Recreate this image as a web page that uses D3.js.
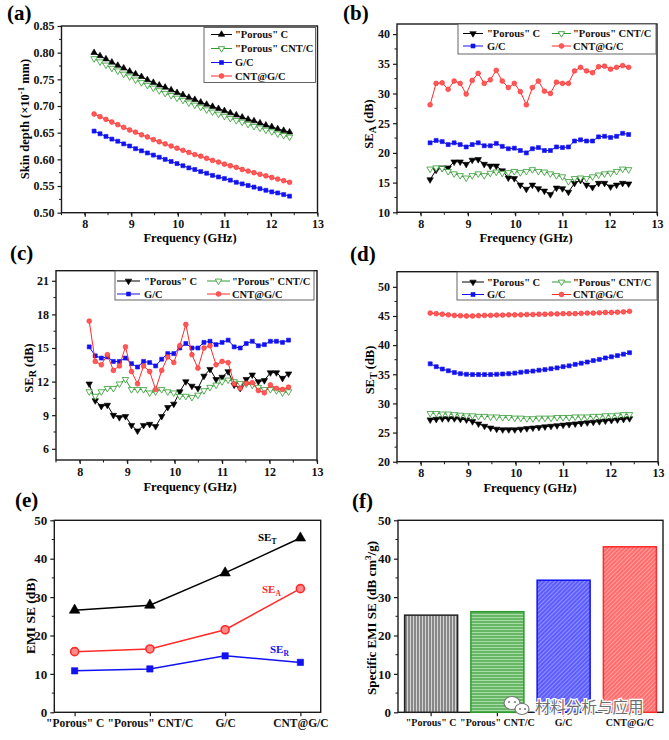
<!DOCTYPE html>
<html><head><meta charset="utf-8">
<script src="https://cdn.jsdelivr.net/npm/d3@7"></script>
<style>
body{margin:0;background:#fff}
svg text{font-family:"Liberation Serif","Times New Roman",serif;font-weight:bold}
.cjk{font-family:"Noto Sans CJK SC",sans-serif !important;font-weight:normal !important}
</style></head><body>
<script>
// ---------- DATA ----------
const freq = [8.2, 8.327, 8.455, 8.582, 8.709, 8.836, 8.964, 9.091, 9.218, 9.345, 9.473, 9.6, 9.727, 9.855, 9.982, 10.109, 10.236, 10.364, 10.491, 10.618, 10.745, 10.873, 11.0, 11.127, 11.255, 11.382, 11.509, 11.636, 11.764, 11.891, 12.018, 12.145, 12.273, 12.4];
const sampleNames = ['"Porous" C', '"Porous" CNT/C', 'G/C', 'CNT@G/C'];
const freqTicks = [8, 9, 10, 11, 12, 13];

// (a) skin depth (x10^-1 mm)
const skinPorousC    = [0.800,0.794,0.788,0.782,0.776,0.771,0.765,0.760,0.755,0.749,0.744,0.739,0.735,0.730,0.725,0.721,0.716,0.712,0.707,0.703,0.699,0.695,0.691,0.687,0.683,0.679,0.675,0.672,0.668,0.664,0.661,0.657,0.654,0.651];
const skinPorousCNTC = [0.789,0.783,0.777,0.771,0.766,0.760,0.755,0.749,0.744,0.739,0.734,0.729,0.724,0.720,0.715,0.711,0.706,0.702,0.698,0.693,0.689,0.685,0.681,0.677,0.673,0.670,0.666,0.662,0.659,0.655,0.652,0.648,0.645,0.642];
const skinGC         = [0.653,0.648,0.643,0.638,0.634,0.629,0.625,0.620,0.616,0.612,0.608,0.604,0.600,0.596,0.592,0.588,0.584,0.581,0.577,0.574,0.570,0.567,0.564,0.561,0.557,0.554,0.551,0.548,0.545,0.542,0.539,0.537,0.534,0.531];
const skinCNTGC      = [0.685,0.680,0.675,0.670,0.665,0.660,0.655,0.651,0.646,0.642,0.637,0.633,0.629,0.625,0.621,0.617,0.613,0.609,0.606,0.602,0.598,0.595,0.591,0.588,0.585,0.581,0.578,0.575,0.572,0.569,0.566,0.563,0.560,0.557];
const skinTicks = [0.50,0.55,0.60,0.65,0.70,0.75,0.80,0.85];

// (b) SE_A (dB)
const seaPorousC    = [15.5,17.1,17.5,17.5,18.5,18.5,18.1,18.8,18.9,18.1,17.8,17.8,17.0,15.8,15.7,14.6,13.9,14.6,14.0,13.6,13.0,14.1,14.0,13.4,14.9,15.4,14.6,14.2,14.9,14.9,14.3,14.6,14.9,14.8];
const seaPorousCNTC = [17.3,17.5,17.4,16.9,16.5,16.2,15.8,16.2,16.5,16.2,16.6,16.8,16.6,16.7,16.9,16.7,16.9,17.2,16.9,16.8,16.5,16.2,16.0,15.2,15.7,15.8,15.7,16.0,16.3,16.5,16.6,16.9,17.3,17.2];
const seaGC         = [21.7,22.1,21.9,21.4,21.7,21.4,21.0,21.4,21.7,21.2,21.2,21.6,21.1,20.7,20.8,20.4,20.0,20.7,20.9,20.4,20.4,21.0,20.9,21.0,22.0,22.2,22.0,22.0,22.7,22.8,22.6,22.8,23.3,23.1];
const seaCNTGC      = [28.1,31.7,31.8,30.7,32.1,31.7,29.9,32.2,33.4,31.7,32.3,33.9,32.1,31.0,31.7,30.3,28.1,31.0,32.1,30.4,30.0,31.9,31.7,31.7,33.8,34.4,33.8,33.5,34.5,34.6,34.1,34.4,34.7,34.4];
const seaTicks = [10,15,20,25,30,35,40];

// (c) SE_R (dB)
const serPorousC    = [11.8,10.3,9.8,9.9,9.0,8.8,8.9,8.1,7.6,8.1,8.2,8.0,8.9,9.7,10.0,11.1,12.0,11.6,11.4,12.5,13.1,12.2,12.4,12.9,11.7,11.4,12.2,12.6,12.0,12.1,12.8,12.8,12.3,12.7];
const serPorousCNTC = [11.1,10.7,11.1,11.4,11.4,11.8,12.2,11.3,11.3,11.3,11.0,11.1,11.3,11.1,11.0,10.7,10.7,10.6,10.8,11.2,11.5,11.7,12.0,12.15,12.0,11.85,11.8,11.7,11.5,11.3,11.3,11.2,11.0,11.1];
const serGC         = [15.1,14.3,14.1,14.2,13.8,13.8,14.1,13.6,13.3,13.8,13.7,13.4,14.0,14.5,14.5,15.0,15.4,15.0,15.0,15.5,15.6,15.3,15.5,15.7,15.1,15.0,15.4,15.6,15.2,15.3,15.6,15.6,15.5,15.7];
const serCNTGC      = [17.4,13.8,13.5,14.4,13.0,13.4,15.1,12.9,11.8,13.4,12.9,11.3,13.0,14.2,13.7,15.2,17.1,14.4,13.2,15.0,15.2,13.5,13.8,13.7,11.8,11.4,11.85,11.9,11.2,11.0,11.7,11.4,11.3,11.5];
const serTicks = [6,9,12,15,18,21];

// (d) SE_T (dB)
const setPorousC    = [27.2,27.3,27.4,27.4,27.4,27.3,27.2,26.9,26.5,26.1,25.8,25.6,25.5,25.5,25.5,25.6,25.7,25.8,25.9,26.0,26.1,26.2,26.3,26.4,26.5,26.6,26.7,26.8,26.9,27.0,27.1,27.2,27.3,27.4];
const setPorousCNTC = [28.3,28.3,28.2,28.2,28.1,28.0,27.9,27.9,27.8,27.8,27.7,27.7,27.6,27.6,27.5,27.5,27.4,27.4,27.5,27.5,27.5,27.6,27.6,27.6,27.7,27.7,27.7,27.8,27.8,27.9,27.9,28.0,28.1,28.1];
const setGC         = [36.8,36.3,35.9,35.6,35.3,35.1,35.0,34.95,34.95,34.95,34.95,35.0,35.05,35.1,35.2,35.35,35.45,35.55,35.7,35.8,35.95,36.1,36.3,36.45,36.7,36.9,37.1,37.35,37.55,37.8,38.0,38.2,38.45,38.7];
const setCNTGC      = [45.5,45.4,45.3,45.2,45.1,45.05,45.0,45.0,45.05,45.1,45.1,45.15,45.15,45.2,45.2,45.2,45.25,45.25,45.3,45.3,45.35,45.35,45.4,45.4,45.4,45.45,45.5,45.5,45.55,45.6,45.6,45.65,45.7,45.8];
const setTicks = [20,25,30,35,40,45,50];

// (e) average EMI SE (dB)
const emiSET = [26.6, 27.9, 36.3, 45.4];
const emiSEA = [15.8, 16.5, 21.5, 32.2];
const emiSER = [10.8, 11.3, 14.7, 13.0];
const emiTicks = [0,10,20,30,40,50];

// (f) specific EMI SE (dB cm3/g)
const specificSE = [25.3, 26.2, 34.4, 43.1];

// ---------- DRAWING ----------
const svg = d3.select('body').append('svg').attr('width',669).attr('height',740);
const COL = {black:'#000', green:'#2f9a2f', blue:'#1212f0', red:'#ff2a2a'};
const STY = {
  pcUp:   {color:COL.black, type:d3.symbolTriangle, fill:COL.black, rot:0,   size:18},
  pcDown: {color:COL.black, type:d3.symbolTriangle, fill:COL.black, rot:180, size:18},
  pcnt:   {color:COL.green, type:d3.symbolTriangle, fill:'#fff',    rot:180, size:18},
  gc:     {color:COL.blue,  type:d3.symbolSquare,   fill:COL.blue,  rot:0,   size:16},
  cnt:    {color:COL.red,   type:d3.symbolCircle,   fill:'#ff5a5a', rot:0,   size:18}
};

function marker(g, cx, cy, st, size){
  g.append('path').attr('d', d3.symbol().type(st.type).size(size||st.size)())
   .attr('transform', `translate(${cx},${cy}) rotate(${st.rot})`)
   .attr('fill', st.fill).attr('stroke', st.color).attr('stroke-width', st.fill==='#fff'?0.8:0.6);
}

function panel(o){
  const g = svg.append('g');
  const b = o.box, x = o.x, y = o.y;
  const xa = g.append('g').attr('class','xaxis').attr('transform',`translate(0,${b.y1})`)
    .call(d3.axisBottom(x).tickValues(o.xTicks).tickSize(4).tickSizeOuter(0).tickPadding(3).tickFormat(o.xFmt||(d=>d)));
  const ya = g.append('g').attr('transform',`translate(${b.x0},0)`)
    .call(d3.axisLeft(y).tickValues(o.yTicks).tickSize(4).tickSizeOuter(0).tickPadding(3).tickFormat(o.yFmt||(d=>d)));
  [xa,ya].forEach(a=>{
    a.select('.domain').remove();
    a.selectAll('line').attr('stroke','#1a1a1a').attr('stroke-width',1.2);
    a.selectAll('text').attr('fill','#111').attr('font-size',o.tickFont||12);
  });
  if(o.xTickFont) xa.selectAll('text').attr('font-size',o.xTickFont);
  (o.xMinor||[]).forEach(v=>g.append('line').attr('x1',x(v)).attr('x2',x(v)).attr('y1',b.y1).attr('y2',b.y1+2.5).attr('stroke','#1a1a1a'));
  (o.yMinor||[]).forEach(v=>g.append('line').attr('y1',y(v)).attr('y2',y(v)).attr('x1',b.x0).attr('x2',b.x0-2.5).attr('stroke','#1a1a1a'));
  g.append('rect').attr('x',b.x0).attr('y',b.y0).attr('width',b.x1-b.x0).attr('height',b.y1-b.y0)
    .attr('fill','none').attr('stroke','#1a1a1a').attr('stroke-width',1.4);
  return g;
}

function series(g, x, y, xs, ys, st){
  const pts = xs.map((f,i)=>[x(f), y(ys[i])]);
  g.append('path').attr('d', d3.line()(pts)).attr('fill','none').attr('stroke',st.color).attr('stroke-width',1);
  pts.forEach(p=>marker(g,p[0],p[1],st));
}

function title(txt, tx, ty){
  svg.append('text').attr('x',tx).attr('y',ty).attr('font-size',21).text(txt);
}
function xTitle(txt, cx, by){
  svg.append('text').attr('x',cx).attr('y',by).attr('text-anchor','middle').attr('font-size',12.5).text(txt);
}
function yTitle(parts, bx, cy, fs){
  const t = svg.append('text').attr('transform',`translate(${bx},${cy}) rotate(-90)`)
    .attr('text-anchor','middle').attr('font-size',fs||12.5);
  parts.forEach(p=>{
    const s = t.append('tspan').text(p.t);
    if(p.sub){ s.attr('font-size',(fs||12.5)*0.8).attr('dy',3); }
    if(p.sup){ s.attr('font-size',(fs||12.5)*0.7).attr('dy',-5); }
    if(p.reset){ s.attr('dy',p.reset); }
  });
}
function legend(box, items){
  svg.append('rect').attr('x',box[0]).attr('y',box[1]).attr('width',box[2]-box[0]).attr('height',box[3]-box[1])
    .attr('fill','#fff').attr('stroke','#555').attr('stroke-width',0.9);
  const g = svg.append('g');
  items.forEach(it=>{
    g.append('line').attr('x1',it.l1).attr('x2',it.l2).attr('y1',it.y).attr('y2',it.y).attr('stroke',it.st.color).attr('stroke-width',1);
    marker(g,(it.l1+it.l2)/2,it.y,it.st);
    g.append('text').attr('x',it.tx).attr('y',it.y+3.6).attr('font-size',10.5).attr('fill','#111').text(it.label);
  });
}

const xMinorF = d3.range(7.5, 13.01, 0.5);

// ---- (a)
{
  const box={x0:61.5,x1:317.5,y0:26,y1:212.7};
  const x=d3.scaleLinear().domain([7.5,13]).range([box.x0,box.x1]);
  const y=d3.scaleLinear().domain([0.5,0.85]).range([box.y1,box.y0]);
  const g=panel({box,x,y,xTicks:freqTicks,yTicks:skinTicks,yFmt:d3.format('.2f'),xMinor:xMinorF,yMinor:d3.range(0.525,0.85,0.05)});
  series(g,x,y,freq,skinPorousC,STY.pcUp);
  series(g,x,y,freq,skinPorousCNTC,STY.pcnt);
  series(g,x,y,freq,skinGC,STY.gc);
  series(g,x,y,freq,skinCNTGC,STY.cnt);
  legend([204,27.5,315.5,82.5],[
    {st:STY.pcUp,l1:211,l2:232,y:34.5,tx:235,label:sampleNames[0]},
    {st:STY.pcnt,l1:211,l2:232,y:48.5,tx:235,label:sampleNames[1]},
    {st:STY.gc,l1:211,l2:232,y:62.5,tx:235,label:sampleNames[2]},
    {st:STY.cnt,l1:211,l2:232,y:76,tx:235,label:sampleNames[3]}]);
  title('(a)',7,20);
  xTitle('Frequency (GHz)',190,242);
  yTitle([{t:'Skin depth (×10'},{t:'-1',sup:true},{t:' mm)',reset:5}],29,119);
}
// ---- (b)
{
  const box={x0:397,x1:657,y0:24,y1:212.3};
  const x=d3.scaleLinear().domain([7.5,13]).range([box.x0,box.x1]);
  const y=d3.scaleLinear().domain([10,41.7]).range([box.y1,box.y0]);
  const g=panel({box,x,y,xTicks:freqTicks,yTicks:seaTicks,xMinor:xMinorF,yMinor:d3.range(12.5,41,5)});
  series(g,x,y,freq,seaPorousC,STY.pcDown);
  series(g,x,y,freq,seaPorousCNTC,STY.pcnt);
  series(g,x,y,freq,seaGC,STY.gc);
  series(g,x,y,freq,seaCNTGC,STY.cnt);
  legend([458,24,656,54],[
    {st:STY.pcDown,l1:463,l2:483,y:33.5,tx:487,label:sampleNames[0]},
    {st:STY.pcnt,l1:552,l2:571,y:33.5,tx:573,label:sampleNames[1]},
    {st:STY.gc,l1:463,l2:483,y:46,tx:487,label:sampleNames[2]},
    {st:STY.cnt,l1:552,l2:571,y:46,tx:573,label:sampleNames[3]}]);
  title('(b)',343,20);
  xTitle('Frequency (GHz)',526,242);
  yTitle([{t:'SE'},{t:'A',sub:true},{t:' (dB)',reset:-3}],373,124);
}
// ---- (c)
{
  const box={x0:56,x1:317,y0:270.7,y1:460};
  const x=d3.scaleLinear().domain([7.5,13]).range([box.x0,box.x1]);
  const y=d3.scaleLinear().domain([5,21.9]).range([box.y1,box.y0]);
  const g=panel({box,x,y,xTicks:freqTicks,yTicks:serTicks,xMinor:xMinorF,yMinor:d3.range(7.5,21.5,3)});
  series(g,x,y,freq,serPorousC,STY.pcDown);
  series(g,x,y,freq,serPorousCNTC,STY.pcnt);
  series(g,x,y,freq,serGC,STY.gc);
  series(g,x,y,freq,serCNTGC,STY.cnt);
  legend([115,271,314,300],[
    {st:STY.pcDown,l1:117,l2:140,y:281,tx:144,label:sampleNames[0]},
    {st:STY.pcnt,l1:207,l2:230,y:281,tx:232,label:sampleNames[1]},
    {st:STY.gc,l1:117,l2:140,y:294,tx:144,label:sampleNames[2]},
    {st:STY.cnt,l1:207,l2:230,y:294,tx:232,label:sampleNames[3]}]);
  title('(c)',10,260);
  xTitle('Frequency (GHz)',190,491);
  yTitle([{t:'SE'},{t:'R',sub:true},{t:' (dB)',reset:-3}],33,368);
}
// ---- (d)
{
  const box={x0:397,x1:658,y0:271.7,y1:461.7};
  const x=d3.scaleLinear().domain([7.5,13]).range([box.x0,box.x1]);
  const y=d3.scaleLinear().domain([20,52.6]).range([box.y1,box.y0]);
  const g=panel({box,x,y,xTicks:freqTicks,yTicks:setTicks,xMinor:xMinorF,yMinor:d3.range(22.5,52,5)});
  series(g,x,y,freq,setPorousC,STY.pcDown);
  series(g,x,y,freq,setPorousCNTC,STY.pcnt);
  series(g,x,y,freq,setGC,STY.gc);
  series(g,x,y,freq,setCNTGC,STY.cnt);
  legend([457,272,657,300],[
    {st:STY.pcDown,l1:462,l2:484,y:282,tx:487,label:sampleNames[0]},
    {st:STY.pcnt,l1:552,l2:571,y:282,tx:573,label:sampleNames[1]},
    {st:STY.gc,l1:462,l2:484,y:294.5,tx:487,label:sampleNames[2]},
    {st:STY.cnt,l1:552,l2:571,y:294.5,tx:573,label:sampleNames[3]}]);
  title('(d)',350,261);
  xTitle('Frequency (GHz)',530,492);
  yTitle([{t:'SE'},{t:'T',sub:true},{t:' (dB)',reset:-3}],374,370);
}
// ---- (e)
{
  const box={x0:54.3,x1:320.7,y0:520.3,y1:712.3};
  const x=d3.scalePoint().domain(sampleNames).range([box.x0,box.x1]).padding(0.27);
  const y=d3.scaleLinear().domain([0,50]).range([box.y1,box.y0]);
  const g=panel({box,x,y,xTicks:sampleNames,yTicks:emiTicks,yMinor:d3.range(5,50,10),tickFont:13,xTickFont:11.5});
  const E=[
    {vals:emiSET,st:{color:COL.black,type:d3.symbolTriangle,fill:COL.black,rot:0,size:48}},
    {vals:emiSEA,st:{color:COL.red,type:d3.symbolCircle,fill:'#ff8a8a',rot:0,size:50}},
    {vals:emiSER,st:{color:COL.blue,type:d3.symbolSquare,fill:COL.blue,rot:0,size:40}}];
  E.forEach(s=>{
    const pts=sampleNames.map((n,i)=>[x(n),y(s.vals[i])]);
    g.append('path').attr('d',d3.line()(pts)).attr('fill','none').attr('stroke',s.st.color).attr('stroke-width',1.5);
    pts.forEach(p=>{
      g.append('path').attr('d',d3.symbol().type(s.st.type).size(s.st.size)())
       .attr('transform',`translate(${p[0]},${p[1]})`).attr('fill',s.st.fill)
       .attr('stroke',s.st.color).attr('stroke-width',s.st.type===d3.symbolCircle?1.6:0.6);
    });
  });
  const lab=(t,s,c,lx,ly)=>{const tt=svg.append('text').attr('x',lx).attr('y',ly).attr('font-size',11).attr('fill',c).text(t);
    tt.append('tspan').attr('font-size',7.5).attr('dy',2.5).text(s);};
  lab('SE','T',COL.black,258,541);
  lab('SE','A',COL.red,262,593);
  lab('SE','R',COL.blue,270,653);
  title('(e)',15,507);
  yTitle([{t:'EMI SE (dB)'}],35,616,13.5);
}
// ---- (f)
{
  const box={x0:398,x1:663,y0:520.3,y1:712.3};
  const x=d3.scaleBand().domain(sampleNames).range([box.x0,box.x1]).paddingInner(0.2).paddingOuter(0.1);
  const y=d3.scaleLinear().domain([0,50]).range([box.y1,box.y0]);
  const defs=svg.append('defs');
  const pat=(id,bg,fg,kind)=>{
    const p=defs.append('pattern').attr('id',id).attr('patternUnits','userSpaceOnUse').attr('width',3).attr('height',3);
    if(kind==='diag') p.attr('patternTransform','rotate(45)');
    p.append('rect').attr('width',3).attr('height',3).attr('fill',bg);
    if(kind==='h') p.append('line').attr('x1',0).attr('x2',3).attr('y1',1).attr('y2',1).attr('stroke',fg).attr('stroke-width',1.2);
    else p.append('line').attr('x1',1).attr('x2',1).attr('y1',0).attr('y2',3).attr('stroke',fg).attr('stroke-width',1.2);
  };
  pat('pv','#d4d4d4','#555','v');
  pat('ph','#a6dca6','#3d9e3d','h');
  pat('pb','#9090ff','#3a3aff','diag');
  pat('pr','#ffa0a0','#ff4a4a','diag');
  const fills=['url(#pv)','url(#ph)','url(#pb)','url(#pr)'];
  const strokes=['#222',COL.green,COL.blue,COL.red];
  const g=panel({box,x,y,xTicks:sampleNames,yTicks:emiTicks,yMinor:d3.range(5,50,10),tickFont:13,xTickFont:10});
  sampleNames.forEach((n,i)=>{
    g.append('rect').attr('x',x(n)).attr('width',x.bandwidth()).attr('y',y(specificSE[i])).attr('height',y(0)-y(specificSE[i]))
     .attr('fill',fills[i]).attr('stroke',strokes[i]).attr('stroke-width',1.5);
  });
  title('(f)',352,508);
  yTitle([{t:'Specific EMI SE (dB cm'},{t:'3',sup:true},{t:'/g)',reset:5}],376,618,13);
  // watermark
  const wm=svg.append('g');
  wm.append('ellipse').attr('cx',512).attr('cy',703).attr('rx',8).attr('ry',6.5).attr('fill','#fff').attr('stroke','#777').attr('stroke-width',1.2);
  wm.append('ellipse').attr('cx',522).attr('cy',709).attr('rx',7).attr('ry',5.5).attr('fill','#fff').attr('stroke','#777').attr('stroke-width',1.2);
  [[509,702],[515,702],[520,709],[525,709]].forEach(p=>wm.append('circle').attr('cx',p[0]).attr('cy',p[1]).attr('r',1).attr('fill','#777'));
  wm.append('text').attr('class','cjk').attr('x',535).attr('y',713).attr('font-size',15.5).attr('fill','#6e6e6e')
    .attr('stroke','#fff').attr('stroke-width',2.5).attr('paint-order','stroke').text('材料分析与应用');
}
</script>
</body></html>
